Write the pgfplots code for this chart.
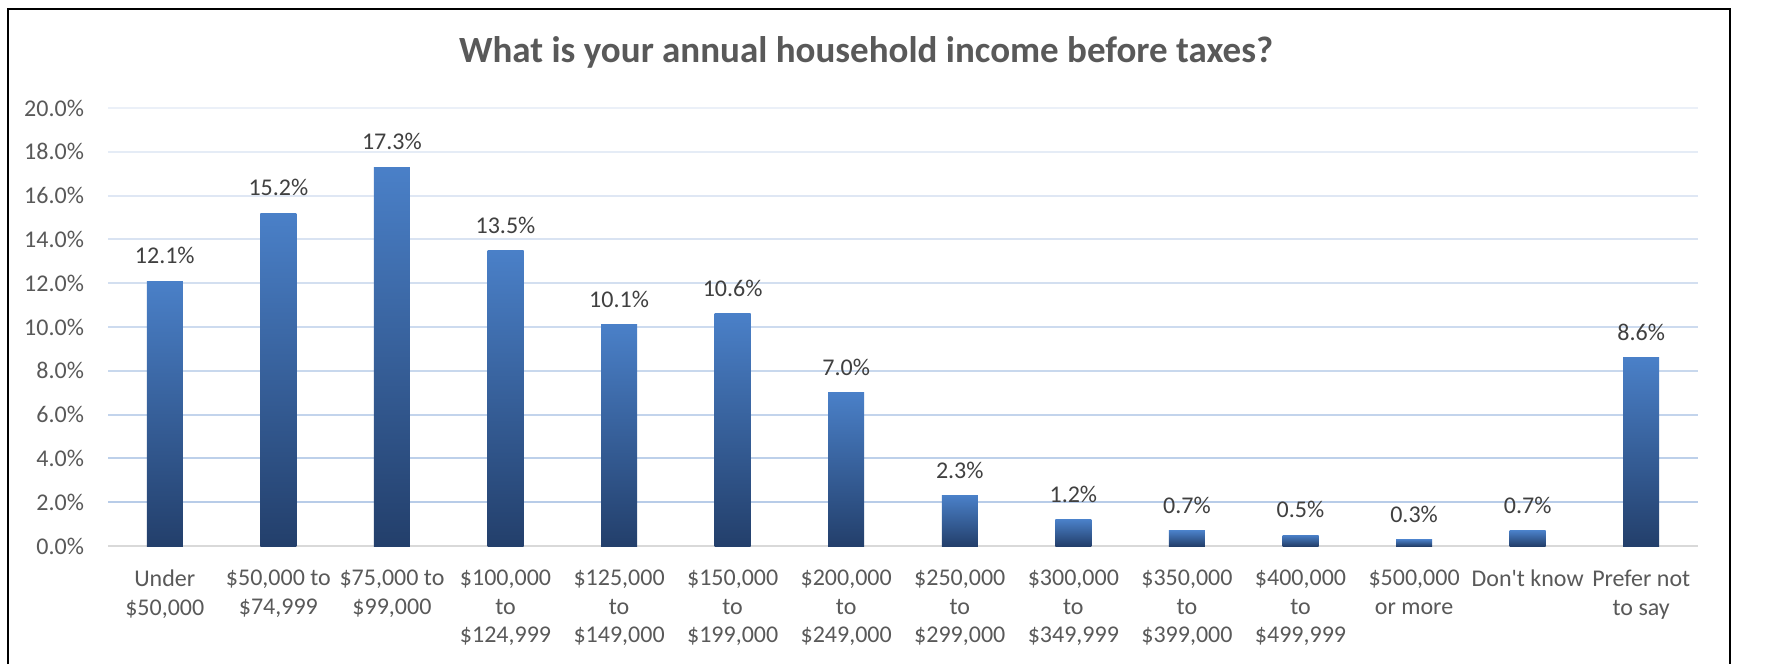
\documentclass[border=0pt]{standalone}
\usepackage{fontspec}
\setmainfont{Carlito}
\usepackage{pgfplots}
\usepackage{pgfplotstable}
\pgfplotsset{compat=1.18}

\definecolor{txt}{HTML}{595959}
\definecolor{lbl}{HTML}{404040}
\definecolor{bartop}{HTML}{4A80C8}
\definecolor{barbot}{HTML}{233F6B}
\definecolor{axisgray}{HTML}{D9D9D9}
\definecolor{gridhi}{HTML}{EBF0F8}
\definecolor{gridlo}{HTML}{B8CCE8}

% share of respondents, percent
\pgfplotstableread{
x y
0 12.1
1 15.2
2 17.3
3 13.5
4 10.1
5 10.6
6 7.0
7 2.3
8 1.2
9 0.7
10 0.5
11 0.3
12 0.7
13 8.6
}\income

\pgfplotsset{gradbar/.style={ybar, bar width=18pt, bar shift=0pt, draw=none,
  top color=bartop, bottom color=barbot}}

\begin{document}
\begin{tikzpicture}
\useasboundingbox (0pt,0pt) rectangle (888.5pt,332pt);
\fill[white] (0pt,0pt) rectangle (888.5pt,332pt);
\begin{axis}[
  at={(54pt,59pt)}, anchor=south west,
  scale only axis, width=795pt, height=219pt,
  xmin=-0.5, xmax=13.5, ymin=0, ymax=20,
  axis x line*=bottom, axis y line*=left,
  y axis line style={draw=none},
  x axis line style={axisgray, line width=1.2pt},
  major tick length=0pt,
  /pgf/number format/assume math mode=true,
  ytick={0,2,...,20},
  yticklabel={\pgfmathprintnumber[fixed,fixed zerofill,precision=1]{\tick}\%},
  yticklabel style={font=\fontsize{12}{14}\selectfont, text=txt, xshift=-8.5pt},
  xtick={0,...,13},
  xticklabels={{Under\\\$50,000},{\$50,000 to\\\$74,999},{\$75,000 to\\\$99,000},
    {\$100,000\\to\\\$124,999},{\$125,000\\to\\\$149,000},{\$150,000\\to\\\$199,000},
    {\$200,000\\to\\\$249,000},{\$250,000\\to\\\$299,000},{\$300,000\\to\\\$349,999},
    {\$350,000\\to\\\$399,000},{\$400,000\\to\\\$499,999},{\$500,000\\or more},
    {Don\textquotesingle t know},{Prefer not\\to say}},
  xticklabel style={font=\fontsize{12}{14.25}\selectfont, text=txt, align=center, yshift=-8.5pt},
  clip=false,
]
% gridlines fading toward the top
\draw[line width=1pt, color=gridlo!0!gridhi] (-0.5,20) -- (13.5,20);
\draw[line width=1pt, color=gridlo!12!gridhi] (-0.5,18) -- (13.5,18);
\draw[line width=1pt, color=gridlo!24!gridhi] (-0.5,16) -- (13.5,16);
\draw[line width=1pt, color=gridlo!36!gridhi] (-0.5,14) -- (13.5,14);
\draw[line width=1pt, color=gridlo!48!gridhi] (-0.5,12) -- (13.5,12);
\draw[line width=1pt, color=gridlo!58!gridhi] (-0.5,10) -- (13.5,10);
\draw[line width=1pt, color=gridlo!68!gridhi] (-0.5,8) -- (13.5,8);
\draw[line width=1pt, color=gridlo!78!gridhi] (-0.5,6) -- (13.5,6);
\draw[line width=1pt, color=gridlo!90!gridhi] (-0.5,4) -- (13.5,4);
\draw[line width=1pt, color=gridlo] (-0.5,2) -- (13.5,2);

% one plot per bar so that each bar gets its own gradient
\addplot[gradbar] coordinates {(0,12.1)};
\addplot[gradbar] coordinates {(1,15.2)};
\addplot[gradbar] coordinates {(2,17.3)};
\addplot[gradbar] coordinates {(3,13.5)};
\addplot[gradbar] coordinates {(4,10.1)};
\addplot[gradbar] coordinates {(5,10.6)};
\addplot[gradbar] coordinates {(6,7.0)};
\addplot[gradbar] coordinates {(7,2.3)};
\addplot[gradbar] coordinates {(8,1.2)};
\addplot[gradbar] coordinates {(9,0.7)};
\addplot[gradbar] coordinates {(10,0.5)};
\addplot[gradbar] coordinates {(11,0.3)};
\addplot[gradbar] coordinates {(12,0.7)};
\addplot[gradbar] coordinates {(13,8.6)};

\addplot[draw=none, mark=none,
  nodes near coords={\pgfmathprintnumber[fixed,fixed zerofill,precision=1]{\pgfplotspointmeta}\%},
  nodes near coords style={font=\fontsize{12}{14}\selectfont, text=lbl, anchor=south, yshift=5pt}]
  table[x=x, y=y] {\income};
\end{axis}

\draw[line width=1.3pt, black] (4pt,0pt) -- (4pt,327.5pt) -- (865pt,327.5pt) -- (865pt,0pt);
\node[font=\fontsize{18.5}{22}\selectfont\bfseries, text=txt] at (433pt,306pt)
  {What is your annual household income before taxes?};
\end{tikzpicture}
\end{document}
